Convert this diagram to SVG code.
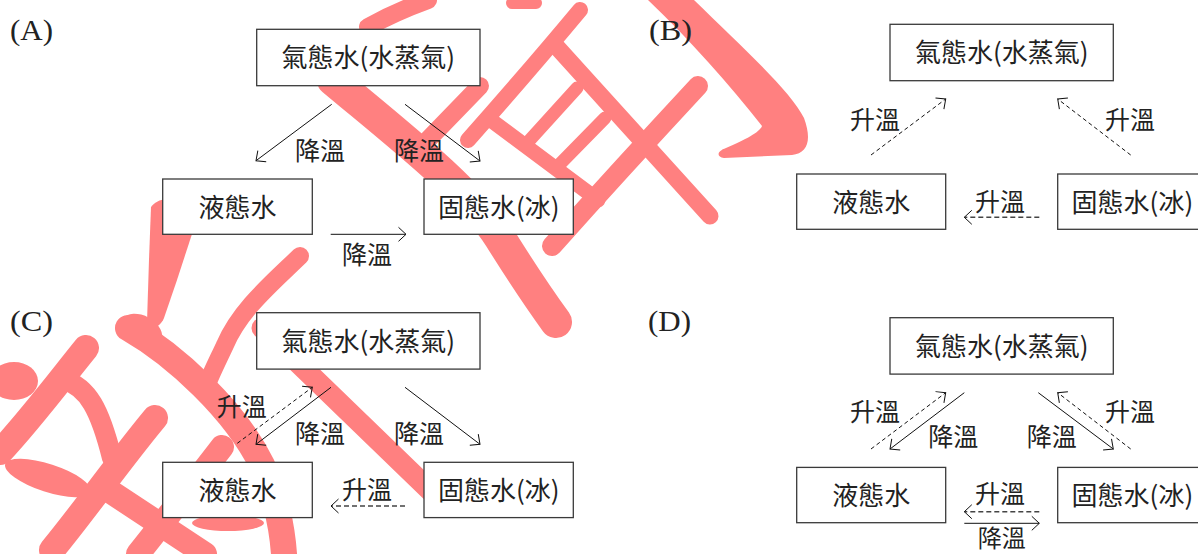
<svg xmlns="http://www.w3.org/2000/svg" width="1198" height="554" viewBox="0 0 1198 554">
<style>
.wm{fill:none;stroke:#ff8080;stroke-linecap:round;stroke-linejoin:round}
.wmf{fill:#ff8080;stroke:none}
.box{fill:#fff;stroke:#3a3a3a;stroke-width:1.3}
.n{font-family:"Noto Sans CJK TC","Noto Sans CJK JP",sans-serif;font-size:26px;fill:#222;text-anchor:middle}
.l{font-family:"Noto Sans CJK TC","Noto Sans CJK JP",sans-serif;font-size:25px;fill:#222;text-anchor:middle}
.p{font-family:"Liberation Serif",serif;font-size:30px;fill:#222}
.s{stroke:#111;stroke-width:1;fill:none;marker-end:url(#ah)}
.d{stroke:#111;stroke-width:1;fill:none;stroke-dasharray:4 3;marker-end:url(#ah)}
.d2{stroke:#444;stroke-width:1.5;fill:none;stroke-dasharray:5 3;marker-end:url(#ah)}
</style>
<defs>
<marker id="ah" viewBox="-12 -9 14 18" markerWidth="14" markerHeight="18" refX="0" refY="0" orient="auto" markerUnits="userSpaceOnUse">
<path d="M-7.5,-7 L0,0 L-7.5,7" fill="none" stroke="#111" stroke-width="1"/>
</marker>
</defs>
<rect width="1198" height="554" fill="#fff"/>
<g id="watermark">
<path class="wm" stroke-width="32" d="M333,80 C395,132 470,190 500,238 C520,270 540,300 556,322"/>
<path class="wm" stroke-width="18" d="M480,86 L418,150"/>
<path class="wm" stroke-width="18" d="M368,27 Q395,12 428,0"/>
<path class="wm" stroke-width="12" d="M512,3 L536,3"/>
<path class="wm" stroke-width="17" d="M556,46 L710,216"/>
<path class="wm" stroke-width="15" d="M488,118 L598,200"/>
<path class="wm" stroke-width="16" d="M580,10 Q530,70 468,140"/>
<path class="wm" stroke-width="13" d="M577,88 L528,142"/>
<path class="wm" stroke-width="13" d="M605,118 L556,168"/>
<path class="wm" stroke-width="20" d="M698,86 Q620,170 552,246"/>
<path class="wmf" d="M648,0 L694,0 C740,45 790,90 804,118 C812,140 808,153 792,155 L724,158 C716,157 717,151 726,148 C745,140 760,132 762,126 C730,85 690,40 648,0 Z"/>
<path class="wmf" d="M151,207 C158,198 170,197 178,205 L192,234 L177,280 L164,318 C160,328 148,332 147,322 L149,260 Z"/>
<path class="wm" stroke-width="26" d="M128,328 C175,355 235,410 262,465 C275,495 282,525 284,554"/>
<ellipse class="wmf" cx="142" cy="330" rx="22" ry="14" transform="rotate(30 142 330)"/>
<path class="wm" stroke-width="18" d="M300,256 C270,285 240,310 225,345 C218,360 212,372 208,382"/>
<path class="wm" stroke-width="21" d="M262,328 L445,505"/>
<ellipse class="wmf" cx="14" cy="381" rx="24" ry="19"/>
<path class="wm" stroke-width="26" d="M86,348 C60,380 30,420 0,452"/>
<path class="wm" stroke-width="20" d="M64,380 C88,387 100,410 112,458"/>
<path class="wm" stroke-width="26" d="M155,418 C120,460 85,510 52,550"/>
<ellipse class="wmf" cx="48" cy="478" rx="45" ry="14" transform="rotate(18 48 478)"/>
<path class="wm" stroke-width="24" d="M108,490 L205,554"/>
<path class="wm" stroke-width="24" d="M222,447 C195,482 165,520 138,554"/>
<ellipse class="wmf" cx="228" cy="523" rx="36" ry="8"/>
</g>
<g id="connectors">
<line class="s" x1="331.7" y1="104.3" x2="256" y2="160.7"/>
<line class="s" x1="405" y1="104.3" x2="480" y2="161"/>
<line class="s" x1="330.7" y1="234.3" x2="406" y2="234.3"/>
<line class="d" x1="871" y1="155" x2="945.7" y2="99"/>
<line class="d" x1="1130.7" y1="155" x2="1057.7" y2="99"/>
<line class="d2" x1="1039.3" y1="217.3" x2="964.3" y2="217.3"/>
<line class="d" x1="237.3" y1="443.3" x2="312.3" y2="387.3"/>
<line class="s" x1="331" y1="387.3" x2="256" y2="444.3"/>
<line class="s" x1="405" y1="387.3" x2="480" y2="444.3"/>
<line class="d2" x1="405" y1="506" x2="331" y2="506"/>
<line class="d" x1="871" y1="449" x2="945.7" y2="392.7"/>
<line class="s" x1="964.3" y1="392.7" x2="890" y2="449"/>
<line class="s" x1="1038.3" y1="392.7" x2="1113.3" y2="449"/>
<line class="d" x1="1130.7" y1="449" x2="1057.7" y2="392.7"/>
<line class="d2" x1="1039.3" y1="511.7" x2="964.3" y2="511.7"/>
<line class="s" x1="964.3" y1="523.3" x2="1039.3" y2="523.3"/>
<text class="l" x="320" y="159.5">降溫</text>
<text class="l" x="419" y="159.5">降溫</text>
<text class="l" x="367" y="263.5">降溫</text>
<text class="l" x="875" y="128.5">升溫</text>
<text class="l" x="1130" y="128.5">升溫</text>
<text class="l" x="1000" y="210.5">升溫</text>
<text class="l" x="241.7" y="416.2">升溫</text>
<text class="l" x="320" y="442.9">降溫</text>
<text class="l" x="419" y="442.9">降溫</text>
<text class="l" x="367" y="499">升溫</text>
<text class="l" x="875" y="420.5">升溫</text>
<text class="l" x="953.3" y="446.2">降溫</text>
<text class="l" x="1051.7" y="446.2">降溫</text>
<text class="l" x="1130" y="420.5">升溫</text>
<text class="l" x="1000" y="502.8">升溫</text>
<text class="l" x="1001.7" y="547" style="font-size:24px">降溫</text>
</g>
<g id="panel-labels">
<text class="p" x="10" y="40" textLength="43" lengthAdjust="spacingAndGlyphs">(A)</text>
<text class="p" x="649" y="40" textLength="43" lengthAdjust="spacingAndGlyphs">(B)</text>
<text class="p" x="10" y="331" textLength="43" lengthAdjust="spacingAndGlyphs">(C)</text>
<text class="p" x="648" y="331" textLength="43" lengthAdjust="spacingAndGlyphs">(D)</text>
</g>
<g id="A-gas"><rect class="box" x="256.7" y="29.3" width="223.3" height="56.4"/><text class="n" x="368.3" y="67.4">氣態水(水蒸氣)</text></g>
<g id="A-liquid"><rect class="box" x="162.7" y="179" width="149.6" height="55.3"/><text class="n" x="237.5" y="216.6">液態水</text></g>
<g id="A-solid"><rect class="box" x="424" y="179" width="149.3" height="55.3"/><text class="n" x="498.7" y="216.6">固態水(冰)</text></g>
<g id="B-gas"><rect class="box" x="890" y="24.3" width="223.3" height="56.4"/><text class="n" x="1001.7" y="62.4">氣態水(水蒸氣)</text></g>
<g id="B-liquid"><rect class="box" x="796.7" y="174" width="149" height="55.3"/><text class="n" x="871.2" y="211.6">液態水</text></g>
<g id="B-solid"><rect class="box" x="1057.7" y="174" width="149.3" height="55.3"/><text class="n" x="1132.4" y="211.6">固態水(冰)</text></g>
<g id="C-gas"><rect class="box" x="256.7" y="312.7" width="223.3" height="56.4"/><text class="n" x="368.3" y="350.8">氣態水(水蒸氣)</text></g>
<g id="C-liquid"><rect class="box" x="162.7" y="462.3" width="149.6" height="55.3"/><text class="n" x="237.5" y="499.9">液態水</text></g>
<g id="C-solid"><rect class="box" x="424" y="462.3" width="149.3" height="55.3"/><text class="n" x="498.7" y="499.9">固態水(冰)</text></g>
<g id="D-gas"><rect class="box" x="890" y="317.7" width="223.3" height="56.4"/><text class="n" x="1001.7" y="355.8">氣態水(水蒸氣)</text></g>
<g id="D-liquid"><rect class="box" x="796.7" y="467.4" width="149" height="55.3"/><text class="n" x="871.2" y="505">液態水</text></g>
<g id="D-solid"><rect class="box" x="1057.7" y="467.4" width="149.3" height="55.3"/><text class="n" x="1132.4" y="505">固態水(冰)</text></g>
</svg>
